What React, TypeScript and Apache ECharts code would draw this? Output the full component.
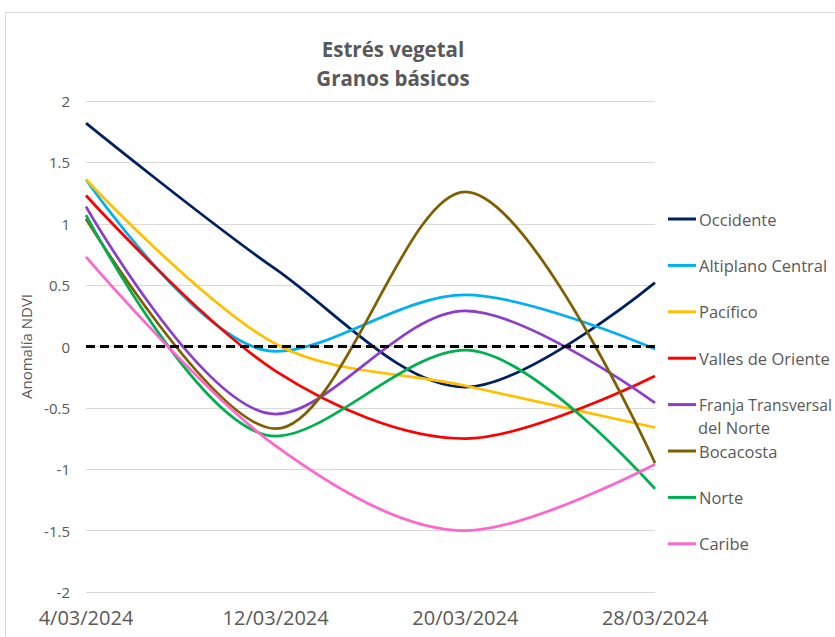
import React, { useEffect, useRef } from "react";
import * as echarts from "echarts";

const categories = ["4/03/2024", "12/03/2024", "20/03/2024", "28/03/2024"];
const occidente = [1.82, 0.63, -0.33, 0.52];
const altiplano = [1.36, -0.04, 0.42, -0.02];
const pacifico = [1.36, 0.02, -0.32, -0.66];
const valles = [1.23, -0.2, -0.75, -0.24];
const franja = [1.14, -0.55, 0.29, -0.46];
const bocacosta = [1.04, -0.67, 1.26, -0.95];
const norte = [1.07, -0.73, -0.03, -1.16];
const caribe = [0.73, -0.81, -1.5, -0.96];
const zeroLine = [0, 0, 0, 0];
const yTicks = { min: -2, max: 2, interval: 0.5 };

const seriesDefs = [
  { name: "Occidente", data: occidente, color: "#002060" },
  { name: "Altiplano Central", data: altiplano, color: "#00B0F0" },
  { name: "Pacífico", data: pacifico, color: "#FFC000" },
  { name: "Valles de Oriente", data: valles, color: "#FF0000" },
  { name: "Franja Transversal del Norte", data: franja, color: "#8B3FC9" },
  { name: "Bocacosta", data: bocacosta, color: "#7F6000" },
  { name: "Norte", data: norte, color: "#00B050" },
  { name: "Caribe", data: caribe, color: "#FF66CC" },
];

const FONT = "'Open Sans', 'Noto Sans', sans-serif";
const GRAY = "#595959";

export default function App() {
  const ref = useRef<HTMLDivElement>(null);
  useEffect(() => {
    if (!ref.current) return;
    const chart = echarts.init(ref.current, null, { renderer: "svg" });
    chart.setOption({
      animation: false,
      backgroundColor: "#ffffff",
      title: {
        text: "Estrés vegetal\nGranos básicos",
        left: 388,
        top: 29,
        textAlign: "center",
        textStyle: {
          fontFamily: FONT,
          fontSize: 20.5,
          fontWeight: "bold",
          color: GRAY,
          lineHeight: 29,
        },
      },
      graphic: [
        {
          type: "rect",
          shape: { x: 5.5, y: 12.5, width: 900, height: 700 },
          style: { fill: "none", stroke: "#D9D9D9", lineWidth: 1 },
          silent: true,
        },
        {
          type: "text",
          x: 698,
          y: 427,
          style: {
            text: "del Norte",
            fontFamily: FONT,
            fontSize: 16.5,
            fill: GRAY,
            verticalAlign: "middle",
          },
        },
      ],
      legend: {
        orient: "vertical",
        left: 663,
        top: 204,
        icon: "rect",
        itemWidth: 28,
        itemHeight: 3,
        itemGap: 26.4,
        data: seriesDefs.map((s) => s.name),
        formatter: (n: string) =>
          n === "Franja Transversal del Norte" ? "{s|Franja Transversal}" : n,
        textStyle: {
          fontFamily: FONT,
          fontSize: 16.5,
          color: GRAY,
          lineHeight: 20,
          padding: [0, 0, 0, -2],
          rich: {
            s: { fontFamily: FONT, fontSize: 15.6, color: GRAY, lineHeight: 20 },
          },
        },
      },
      grid: { left: 86, right: 180, top: 101, bottom: 45 },
      xAxis: {
        type: "category",
        data: categories,
        boundaryGap: false,
        axisLine: { show: false },
        axisTick: { show: false },
        axisLabel: {
          fontFamily: FONT,
          fontSize: 20,
          color: GRAY,
          margin: 15,
        },
      },
      yAxis: {
        type: "value",
        min: yTicks.min,
        max: yTicks.max,
        interval: yTicks.interval,
        name: "Anomalía NDVI",
        nameLocation: "middle",
        nameGap: 47,
        nameTextStyle: { fontFamily: FONT, fontSize: 15, color: GRAY },
        axisLine: { show: false },
        axisTick: { show: false },
        splitLine: { lineStyle: { color: "#D9D9D9", width: 1 } },
        axisLabel: { fontFamily: FONT, fontSize: 15, color: GRAY, margin: 16 },
      },
      series: [
        ...seriesDefs.map((s) => ({
          name: s.name,
          type: "line",
          data: s.data,
          smooth: 0.33,
          showSymbol: false,
          symbol: "none",
          color: s.color,
          lineStyle: { color: s.color, width: 2.75 },
        })),
        {
          name: "cero",
          type: "line",
          data: zeroLine,
          showSymbol: false,
          symbol: "none",
          color: "#000000",
          lineStyle: { color: "#000000", width: 3, type: [9, 5] },
          z: 3,
        },
      ],
    });
    return () => chart.dispose();
  }, []);
  return (
    <div
      ref={ref}
      style={{ position: "absolute", left: 0, top: 0, width: 835, height: 637 }}
    />
  );
}
